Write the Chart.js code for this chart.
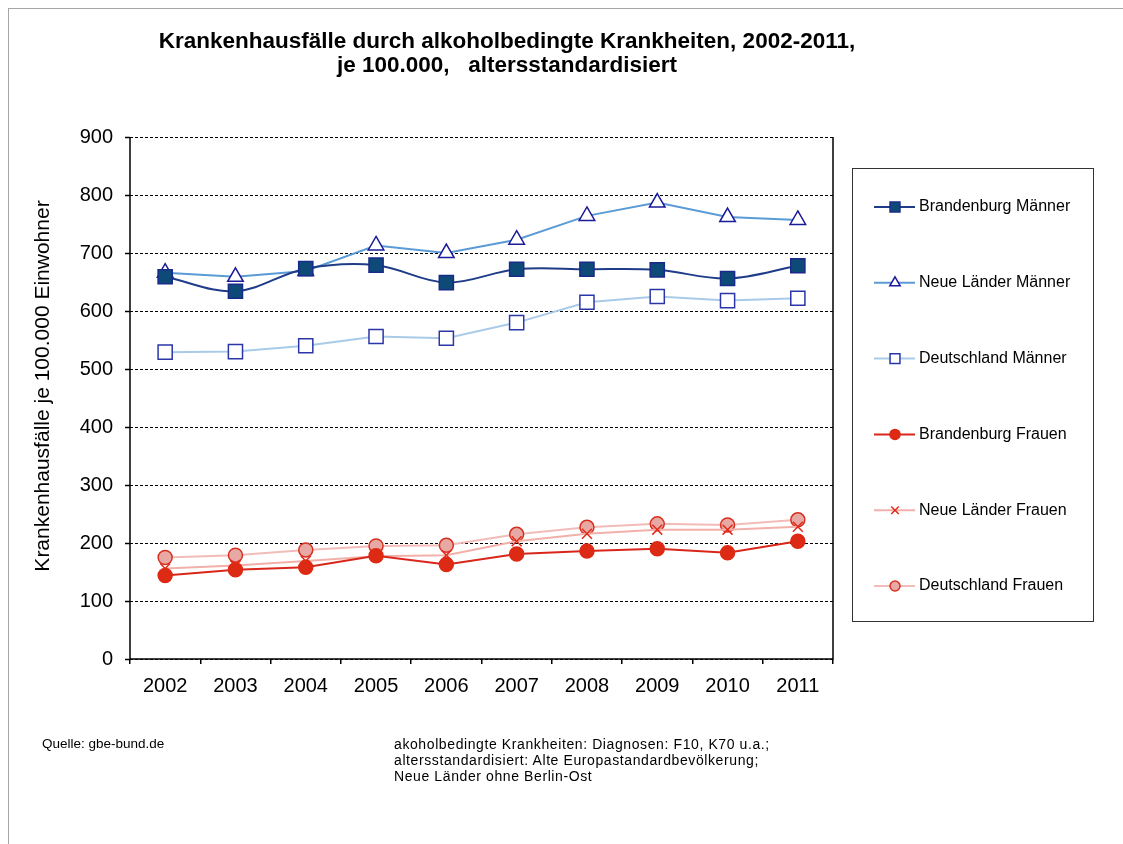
<!DOCTYPE html>
<html>
<head>
<meta charset="utf-8">
<script src="https://cdn.jsdelivr.net/npm/chart.js@4/dist/chart.umd.min.js"></script>
<style>
  html, body { margin: 0; padding: 0; background: #fff; }
  body { width: 1123px; height: 844px; position: relative; overflow: hidden; font-family: "Liberation Sans", Arial, sans-serif; }
  #frame { position: absolute; left: 8px; top: 8px; width: 1200px; height: 900px; border-left: 1px solid #a6a6a6; border-top: 1px solid #a6a6a6; }
  canvas { position: absolute; left: 0; top: 0; }
  .title { position: absolute; left: 0; width: 1014px; text-align: center; font-weight: bold; font-size: 22.5px; line-height: 24px; color: #000; white-space: pre; }
  .note { position: absolute; font-size: 14px; color: #000; line-height: 16px; white-space: pre; }
</style>
</head>
<body>
<div id="frame"></div>
<canvas id="c" width="1123" height="844"></canvas>
<div class="title" style="top:29px">Krankenhausfälle durch alkoholbedingte Krankheiten, 2002-2011,</div>
<div class="title" style="top:53px">je 100.000,   altersstandardisiert</div>
<div class="note" style="left:42px; top:736px; font-size:13.5px">Quelle: gbe-bund.de</div>
<div class="note" style="left:394px; top:736px; letter-spacing:0.6px">akoholbedingte Krankheiten: Diagnosen: F10, K70 u.a.;
altersstandardisiert: Alte Europastandardbevölkerung;
Neue Länder ohne Berlin-Ost</div>
<script>
const years = ['2002','2003','2004','2005','2006','2007','2008','2009','2010','2011'];
const yTicks = [0,100,200,300,400,500,600,700,800,900];
const yTitle = 'Krankenhausfälle je 100.000 Einwohner';
const seriesNames = ['Brandenburg Männer','Neue Länder Männer','Deutschland Männer','Brandenburg Frauen','Neue Länder Frauen','Deutschland Frauen'];
const brandenburgMaenner = [659, 634, 673, 679, 649, 672, 672, 671, 656, 678];
const neueLaenderMaenner = [666, 659, 669, 713, 700, 723, 764, 787, 762, 757];
const deutschlandMaenner = [529, 530, 540, 556, 553, 580, 615, 625, 618, 622];
const brandenburgFrauen = [144, 154, 158, 178, 163, 181, 186, 190, 183, 203];
const neueLaenderFrauen = [156, 161, 169, 177, 179, 203, 216, 223, 223, 228];
const deutschlandFrauen = [175, 179, 188, 195, 196, 215, 227, 233, 231, 240];

const FONT = '"Liberation Sans", Arial, sans-serif';

const styles = [
  {line:'#1f3c88', fill:'#0d4a78', border:'#1a2a8a', style:'rect', r:10, lr:7, tension:0.35},
  {line:'#5b9bd5', fill:'#ffffff', border:'#1a1a9a', style:'triangle', r:9, lr:6, tension:0},
  {line:'#a9cbe8', fill:'#ffffff', border:'#2a36a8', style:'rect', r:10, lr:7, tension:0},
  {line:'#d9261a', fill:'#dd2a14', border:'#dd2a14', style:'circle', r:7, lr:5, tension:0},
  {line:'#f2b0aa', fill:'#e02a1a', border:'#e02a1a', style:'crossRot', r:7, lr:5, tension:0},
  {line:'#f2bcb8', fill:'#e8a8a4', border:'#d83020', style:'circle', r:7, lr:5, tension:0}
];
const values = [brandenburgMaenner, neueLaenderMaenner, deutschlandMaenner, brandenburgFrauen, neueLaenderFrauen, deutschlandFrauen];

const datasets = values.map((v, i) => ({
  label: seriesNames[i],
  data: v,
  borderColor: styles[i].line,
  borderWidth: 2,
  backgroundColor: styles[i].fill,
  pointBackgroundColor: styles[i].fill,
  pointBorderColor: styles[i].border,
  pointBorderWidth: 1.5,
  pointStyle: styles[i].style,
  pointRadius: styles[i].r,
  pointHoverRadius: styles[i].r,
  tension: styles[i].tension,
  fill: false
}));

function drawMarker(ctx, style, x, y, r, fill, stroke) {
  ctx.save();
  ctx.fillStyle = fill; ctx.strokeStyle = stroke; ctx.lineWidth = 1.5;
  ctx.beginPath();
  if (style === 'rect') {
    const s = r * Math.SQRT1_2;
    ctx.rect(x - s, y - s, 2*s, 2*s); ctx.fill(); ctx.stroke();
  } else if (style === 'circle') {
    ctx.arc(x, y, r, 0, Math.PI*2); ctx.fill(); ctx.stroke();
  } else if (style === 'triangle') {
    ctx.moveTo(x, y - r); ctx.lineTo(x + r*0.866, y + r*0.5); ctx.lineTo(x - r*0.866, y + r*0.5); ctx.closePath(); ctx.fill(); ctx.stroke();
  } else if (style === 'crossRot') {
    const s = r * 0.75;
    ctx.moveTo(x - s, y - s); ctx.lineTo(x + s, y + s); ctx.moveTo(x + s, y - s); ctx.lineTo(x - s, y + s); ctx.stroke();
  }
  ctx.restore();
}

const framePlugin = {
  id: 'frame',
  afterDraw(chart) {
    const ctx = chart.ctx, a = chart.chartArea;
    ctx.save();
    ctx.strokeStyle = '#000'; ctx.lineWidth = 1.5;
    ctx.beginPath();
    ctx.moveTo(a.left, a.top); ctx.lineTo(a.left, a.bottom); ctx.lineTo(a.right, a.bottom); ctx.lineTo(a.right, a.top);
    ctx.stroke();
    // y axis title
    ctx.save();
    ctx.translate(43, 386); ctx.rotate(-Math.PI / 2);
    ctx.fillStyle = '#000'; ctx.font = '21px ' + FONT; ctx.textAlign = 'center'; ctx.textBaseline = 'middle';
    ctx.fillText(yTitle, 0, 0);
    ctx.restore();
    // legend box
    const bx = 852, by = 168, bw = 241, bh = 453;
    ctx.lineWidth = 1; ctx.strokeStyle = '#333';
    ctx.strokeRect(bx + 0.5, by + 0.5, bw, bh);
    chart.data.datasets.forEach((ds, i) => {
      const y = 207 + i * 75.8;
      ctx.strokeStyle = ds.borderColor; ctx.lineWidth = 2;
      ctx.beginPath(); ctx.moveTo(874, y); ctx.lineTo(915, y); ctx.stroke();
      drawMarker(ctx, styles[i].style, 895, y, styles[i].lr, ds.pointBackgroundColor, ds.pointBorderColor);
      ctx.fillStyle = '#000'; ctx.font = '16px ' + FONT; ctx.textBaseline = 'middle'; ctx.textAlign = 'left';
      ctx.fillText(ds.label, 919, y);
    });
    ctx.restore();
  }
};

new Chart(document.getElementById('c'), {
  type: 'line',
  data: { labels: years, datasets },
  options: {
    responsive: false,
    animation: false,
    events: [],
    layout: { padding: { left: 26, right: 290, top: 137, bottom: 135 } },
    plugins: { legend: { display: false }, tooltip: { enabled: false }, title: { display: false } },
    scales: {
      x: {
        type: 'category',
        offset: true,
        grid: { offset: true, drawOnChartArea: false, drawTicks: true, tickLength: 5, color: '#000', lineWidth: 1.5 },
        border: { display: false },
        ticks: { color: '#000', font: { family: FONT, size: 20 }, padding: 10, maxRotation: 0, autoSkip: false },
        afterFit: s => { s.height = 50; }
      },
      y: {
        min: 0, max: 900,
        afterBuildTicks: s => { s.ticks = yTicks.map(v => ({ value: v })); },
        grid: { color: '#000', lineWidth: 1, drawTicks: true, tickLength: 5, tickColor: '#000', tickWidth: 1.5 },
        border: { display: false, dash: [3, 2] },
        ticks: { color: '#000', font: { family: FONT, size: 20 }, padding: 12 },
        title: { display: false },
        afterFit: s => { s.width = 104; }
      }
    }
  },
  plugins: [framePlugin]
});
</script>
</body>
</html>
